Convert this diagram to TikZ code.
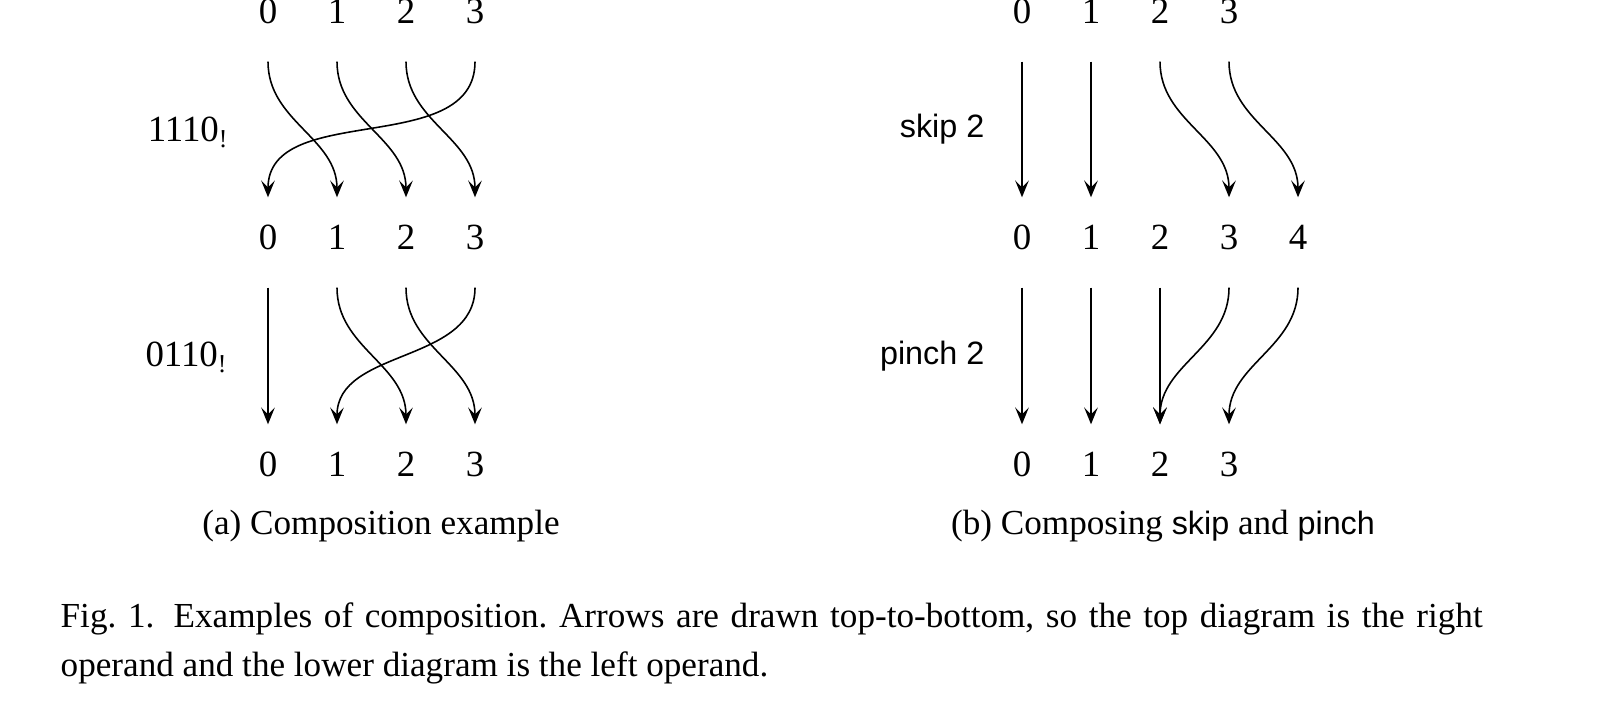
\documentclass[tikz,border=0pt]{standalone}
\usepackage{fontspec}
\setmainfont{Liberation Serif}
\setsansfont{Liberation Sans}
\usetikzlibrary{arrows.meta}

\begin{document}
\begin{tikzpicture}[
		num/.style={inner sep=0pt,text height=5.2mm,text depth=3.7mm,anchor=base,font=\fontsize{10.5}{12}\selectfont},
		perm/.style={inner sep=0pt,anchor=base east,font=\fontsize{10.5}{12}\selectfont},
		opname/.style={inner sep=0pt,anchor=base east,font=\sffamily\fontsize{9.2}{11}\selectfont},
		subcap/.style={inner sep=0pt,anchor=base,font=\fontsize{10}{12}\selectfont},
		wire/.style={line width=0.45pt,-{Stealth[length=4.8pt,width=3.9pt,inset=2pt]}},
		curvewire/.style={wire,out=-90,in=90}]
		\useasboundingbox (0,0) rectangle (16,7.16);
		\node[num] (at0) at (2.68,6.92) {0};
		\node[num] (at1) at (3.37,6.92) {1};
		\node[num] (at2) at (4.06,6.92) {2};
		\node[num] (at3) at (4.75,6.92) {3};
		\node[num] (am0) at (2.68,4.66) {0};
		\node[num] (am1) at (3.37,4.66) {1};
		\node[num] (am2) at (4.06,4.66) {2};
		\node[num] (am3) at (4.75,4.66) {3};
		\node[num] (ab0) at (2.68,2.39) {0};
		\node[num] (ab1) at (3.37,2.39) {1};
		\node[num] (ab2) at (4.06,2.39) {2};
		\node[num] (ab3) at (4.75,2.39) {3};
		\node[perm] (pa) at (2.30,5.74) {1110\textsubscript{!}};
		\node[perm] (pb) at (2.29,3.49) {0110\textsubscript{!}};
		\draw[curvewire](at0) to (am1);
		\draw[curvewire](at1) to (am2);
		\draw[curvewire](at2) to (am3);
		\draw[curvewire](at3) to (am0);
		\draw[wire](am0)--(ab0);
		\draw[curvewire](am1) to (ab2);
		\draw[curvewire](am2) to (ab3);
		\draw[curvewire](am3) to (ab1);
		\node[num] (bt0) at (10.22,6.92) {0};
		\node[num] (bt1) at (10.91,6.92) {1};
		\node[num] (bt2) at (11.60,6.92) {2};
		\node[num] (bt3) at (12.29,6.92) {3};
		\node[num] (bm0) at (10.22,4.66) {0};
		\node[num] (bm1) at (10.91,4.66) {1};
		\node[num] (bm2) at (11.60,4.66) {2};
		\node[num] (bm3) at (12.29,4.66) {3};
		\node[num] (bm4) at (12.98,4.66) {4};
		\node[num] (bb0) at (10.22,2.39) {0};
		\node[num] (bb1) at (10.91,2.39) {1};
		\node[num] (bb2) at (11.60,2.39) {2};
		\node[num] (bb3) at (12.29,2.39) {3};
		\node[opname] (skip) at (9.85,5.78) {skip 2};
		\node[opname] (pinch) at (9.85,3.51) {pinch 2};
		\draw[wire](bt0)--(bm0);
		\draw[wire](bt1)--(bm1);
		\draw[curvewire](bt2) to (bm3);
		\draw[curvewire](bt3) to (bm4);
		\draw[wire](bm0)--(bb0);
		\draw[wire](bm1)--(bb1);
		\draw[wire](bm2)--(bb2);
		\draw[curvewire](bm3) to (bb2);
		\draw[curvewire](bm4) to (bb3);
		\node[subcap] (capa) at (3.81,1.82) {(a) Composition example};
		\node[subcap] (capb) at (11.63,1.82) {(b) Composing {\sffamily\fontsize{9.2}{11}\selectfont skip} and {\sffamily\fontsize{9.2}{11}\selectfont pinch}};
		\node[inner sep=0pt,anchor=south west,text width=14.22cm,align=justify,font=\fontsize{10}{14}\selectfont\frenchspacing] (fig) at (0.60,0.314) {Fig.~1.\hspace{0.55em}Examples of composition. Arrows are drawn top-to-bottom, so the top diagram is the right\linebreak operand and the lower diagram is the left operand.};
	\end{tikzpicture}
\end{document}
